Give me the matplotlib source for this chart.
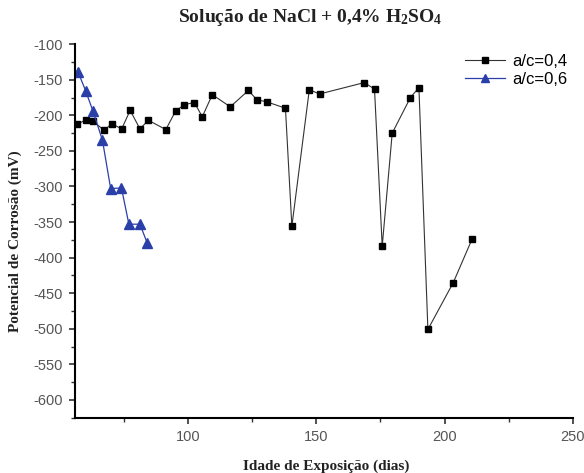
import matplotlib
matplotlib.use('Agg')
import matplotlib.pyplot as plt
from matplotlib.ticker import MultipleLocator

# a/c = 0,4 series (black squares)
dias_04 = [56.8, 60.2, 63.0, 67.3, 70.4, 74.2, 77.5, 81.3, 84.6, 91.4, 95.2, 98.6,
           102.5, 105.6, 109.5, 116.5, 123.6, 126.8, 130.7, 138.0, 140.5, 147.3,
           151.3, 168.7, 172.7, 175.7, 179.6, 186.7, 190.0, 193.5, 203.4, 210.7]
pot_04 = [-212, -207, -208, -221, -212, -219, -193, -219, -207, -220, -194, -185,
          -182, -202, -171, -188, -165, -178, -181, -190, -356, -164,
          -170, -154, -163, -384, -225, -175, -161, -501, -435, -374]

# a/c = 0,6 series (blue triangles)
dias_06 = [57.2, 60.2, 63.0, 66.7, 69.9, 74.1, 77.0, 81.3, 84.1]
pot_06 = [-139, -166, -194, -235, -303, -302, -353, -353, -379]

title = 'Solução de NaCl + 0,4% H$_2$SO$_4$'
xlabel = 'Idade de Exposição (dias)'
ylabel = 'Potencial de Corrosão (mV)'

plt.rcParams['mathtext.fontset'] = 'custom'
plt.rcParams['mathtext.rm'] = 'Liberation Serif:bold'
plt.rcParams['mathtext.it'] = 'Liberation Serif:bold'
plt.rcParams['axes.unicode_minus'] = False

fig = plt.figure(figsize=(5.84, 4.73), dpi=100)
ax = fig.add_axes([0.1284, 0.1169, 0.8526, 0.7897])

# draw the two series
ax.plot(dias_04, pot_04, color='#333333', linewidth=0.8, marker='s',
        markersize=5, markerfacecolor='black', markeredgecolor='black', label='a/c=0,4')
ax.plot(dias_06, pot_06, color='#2b3fa8', linewidth=0.9, marker='^',
        markersize=6.5, markerfacecolor='#2b3fa8', markeredgecolor='#2b3fa8', label='a/c=0,6')

ax.set_xlim(56, 250)
ax.set_ylim(-625, -100)

# axes styling: only left and bottom
for side in ('top', 'right'):
    ax.spines[side].set_visible(False)
for side in ('left', 'bottom'):
    ax.spines[side].set_linewidth(1.5)

ax.xaxis.set_major_locator(MultipleLocator(50))
ax.xaxis.set_minor_locator(MultipleLocator(25))
ax.yaxis.set_major_locator(MultipleLocator(50))
ax.yaxis.set_minor_locator(MultipleLocator(25))
ax.tick_params(which='major', direction='out', length=4.5, width=1.2,
               labelsize=10.5, colors='#333333', pad=4.5)
ax.tick_params(which='minor', direction='out', length=3, width=1.0, colors='#333333')
for lbl in ax.get_xticklabels() + ax.get_yticklabels():
    lbl.set_family('Liberation Sans')
    lbl.set_color('#555555')

fig.text(0.531, 0.962, title, ha='center', va='center', fontsize=14,
         family='Liberation Serif', fontweight='bold', color='#222222')
ax.set_xlabel(xlabel, family='Liberation Serif', fontweight='bold', fontsize=11,
              color='#222222')
ax.set_ylabel(ylabel, family='Liberation Serif', fontweight='bold', fontsize=11,
              color='#222222')
ax.xaxis.set_label_coords(0.505, -0.112)
ax.yaxis.set_label_coords(-0.106, 0.473)

ax.legend(loc='upper right', bbox_to_anchor=(0.997, 0.918), bbox_transform=fig.transFigure,
          frameon=False, prop={'family': 'Liberation Sans', 'size': 12},
          handlelength=2.4, handletextpad=0.4, labelspacing=0.2, markerscale=0.8)

fig.savefig('out.png', dpi=100)
